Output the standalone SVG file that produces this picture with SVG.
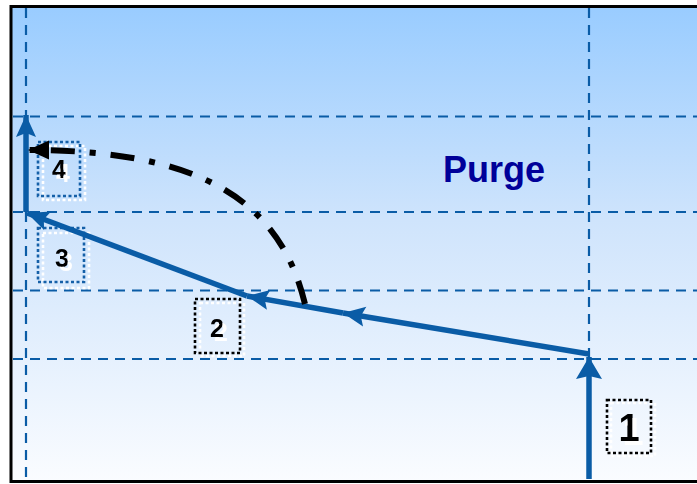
<svg xmlns="http://www.w3.org/2000/svg" width="697" height="484" viewBox="0 0 697 484">
  <defs>
    <linearGradient id="sky" x1="0" y1="0" x2="0" y2="1">
      <stop offset="0" stop-color="#99CCFF"/>
      <stop offset="0.45" stop-color="#CFE4FC"/>
      <stop offset="1" stop-color="#FAFCFF"/>
    </linearGradient>
    <!-- white offset copy behind the step numbers -->
    <filter id="whiteShadow" x="-20%" y="-20%" width="160%" height="160%">
      <feFlood flood-color="#fff" result="white"/>
      <feComposite in="white" in2="SourceAlpha" operator="in" result="shape"/>
      <feOffset in="shape" dx="4" dy="4" result="offset"/>
      <feMerge>
        <feMergeNode in="offset"/>
        <feMergeNode in="SourceGraphic"/>
      </feMerge>
    </filter>
    <marker id="headBlue" markerUnits="userSpaceOnUse" viewBox="-24 -12 26 24" refX="0" refY="0" markerWidth="26" markerHeight="24" orient="auto">
      <path d="M0,0 L-22,-10 L-18,0 L-22,10 Z" fill="#0A5CA6"/>
    </marker>
    <marker id="headBlueBig" markerUnits="userSpaceOnUse" viewBox="-24 -14 26 28" refX="0" refY="0" markerWidth="26" markerHeight="28" orient="auto">
      <path d="M0,0 L-22,-13 L-19,0 L-22,13 Z" fill="#0A5CA6"/>
    </marker>
    <marker id="headBlack" markerUnits="userSpaceOnUse" viewBox="-24 -11 26 22" refX="0" refY="0" markerWidth="26" markerHeight="22" orient="auto">
      <path d="M0,0 L-21,-9.5 L-21,9.5 Z" fill="#000"/>
    </marker>
  </defs>
  <style>
    .grid { stroke: #0A5CA6; stroke-width: 2.2; stroke-dasharray: 10 7; fill: none; }
    .flow { stroke: #0A5CA6; stroke-width: 5.5; fill: none; }
    .path4 { stroke: #000; stroke-width: 6; fill: none; stroke-dasharray: 24 15 6 15; }
    .dotBlack { fill: none; stroke: #000; stroke-width: 2.6; stroke-dasharray: 3 2.5; }
    .dotBlue { fill: none; stroke: #1560A8; stroke-width: 2.6; stroke-dasharray: 3 2.5; }
    .dotWhite { fill: none; stroke: #fff; stroke-width: 2.6; stroke-dasharray: 3 2.5; }
    .num { font-family: "Liberation Sans", Arial, sans-serif; font-weight: bold; text-anchor: middle; fill: #000; filter: url(#whiteShadow); }
  </style>

  <!-- chart area -->
  <rect x="11" y="6.5" width="700" height="475" fill="url(#sky)" stroke="#000" stroke-width="3"/>

  <!-- grid lines -->
  <g id="grid">
    <line class="grid" x1="26" y1="8" x2="26" y2="480"/>
    <line class="grid" x1="589" y1="8" x2="589" y2="480"/>
    <line class="grid" x1="13" y1="116.5" x2="697" y2="116.5"/>
    <line class="grid" x1="13" y1="212" x2="697" y2="212"/>
    <line class="grid" x1="13" y1="290.5" x2="697" y2="290.5"/>
    <line class="grid" x1="13" y1="359" x2="697" y2="359"/>
  </g>

  <text x="443" y="182" font-family="Liberation Sans, Arial, sans-serif" font-weight="bold" font-size="36" fill="#000099">Purge</text>

  <!-- step labels -->
  <g id="step1">
    <rect class="dotWhite" x="611" y="403" width="44" height="53"/>
    <rect class="dotBlack" x="607" y="400" width="44" height="53"/>
    <text class="num" x="629" y="441" font-size="38">1</text>
  </g>
  <g id="step2">
    <rect class="dotWhite" x="200" y="303" width="44" height="53"/>
    <rect class="dotBlack" x="195" y="299" width="45" height="54"/>
    <text class="num" x="217" y="337" font-size="25">2</text>
  </g>
  <g id="step3">
    <rect class="dotWhite" x="43" y="233" width="46" height="55"/>
    <rect class="dotBlue" x="38" y="228" width="46" height="54"/>
    <text class="num" x="62" y="267" font-size="25">3</text>
  </g>
  <g id="step4">
    <rect class="dotWhite" x="43" y="146" width="42" height="54"/>
    <rect class="dotBlue" x="38" y="142" width="42" height="54"/>
    <text class="num" x="59" y="178" font-size="25">4</text>
  </g>

  <!-- connectors -->
  <g id="connectors">
    <path class="flow" d="M589,479 L589,357" stroke-width="7" marker-end="url(#headBlueBig)"/>
    <path class="flow" d="M589,354 L343,313" marker-end="url(#headBlue)"/>
    <path class="flow" d="M343,313 L247,296" marker-end="url(#headBlue)"/>
    <path class="flow" d="M247,296 L27,213" marker-end="url(#headBlue)"/>
    <path class="flow" d="M26,212 L26,115" marker-end="url(#headBlue)"/>
    <path class="path4" d="M305,304 C280,200 200,150 28,150" marker-end="url(#headBlack)"/>
  </g>
</svg>
